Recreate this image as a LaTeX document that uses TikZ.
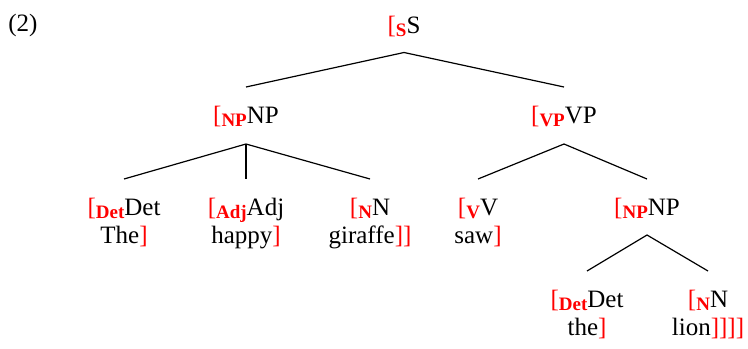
\documentclass[tikz,border=0pt]{standalone}
\usepackage{fontspec}
\setmainfont{Liberation Serif}
\usepackage{xcolor}
\newcommand{\lbr}[1]{\textcolor{red}{[\raisebox{-1.5pt}{\fontsize{9.5}{9.5}\selectfont\bfseries #1}}}
\newcommand{\rbr}{\textcolor{red}{]}}
\begin{document}
\begin{tikzpicture}[x=0.5pt,y=-0.5pt,
  lab/.style={anchor=base,inner sep=0pt,align=center,font=\fontsize{12.5}{14}\selectfont},
  edge/.style={draw=black,line width=0.6pt}]
\path[use as bounding box] (0,0) rectangle (748,348);
\node[lab,anchor=base west] (ex) at (8,32) {(2)};
\node[lab] (S) at (404,33) {\lbr{S}S};
\node[lab] (NP) at (246,123) {\lbr{NP}NP};
\node[lab] (VP) at (564,123) {\lbr{VP}VP};
\node[lab] (Det) at (124,243) {\lbr{Det}Det\\The\rbr};
\node[lab] (Adj) at (246,243) {\lbr{Adj}Adj\\happy\rbr};
\node[lab] (N) at (370,243) {\lbr{N}N\\giraffe\rbr\rbr};
\node[lab] (V) at (478,243) {\lbr{V}V\\saw\rbr};
\node[lab] (NPb) at (647,215) {\lbr{NP}NP};
\node[lab] (Detb) at (587,335) {\lbr{Det}Det\\the\rbr};
\node[lab] (Nb) at (708,335) {\lbr{N}N\\lion\rbr\rbr\rbr\rbr};
\draw[edge] ([yshift=18pt]NP.base) -- ([yshift=-9.75pt]S.base) -- ([yshift=18pt]VP.base);
\draw[edge] ([yshift=32pt]Det.base) -- ([yshift=-10.5pt]NP.base) -- ([yshift=32pt]N.base);
\draw[edge] ([yshift=-10.5pt]NP.base) -- ([yshift=32pt]Adj.base);
\draw[edge] ([yshift=32pt]V.base) -- ([yshift=-10.5pt]VP.base) -- ([yshift=18pt]NPb.base);
\draw[edge] ([yshift=32pt]Detb.base) -- ([yshift=-10pt]NPb.base) -- ([yshift=32pt]Nb.base);
\end{tikzpicture}
\end{document}
